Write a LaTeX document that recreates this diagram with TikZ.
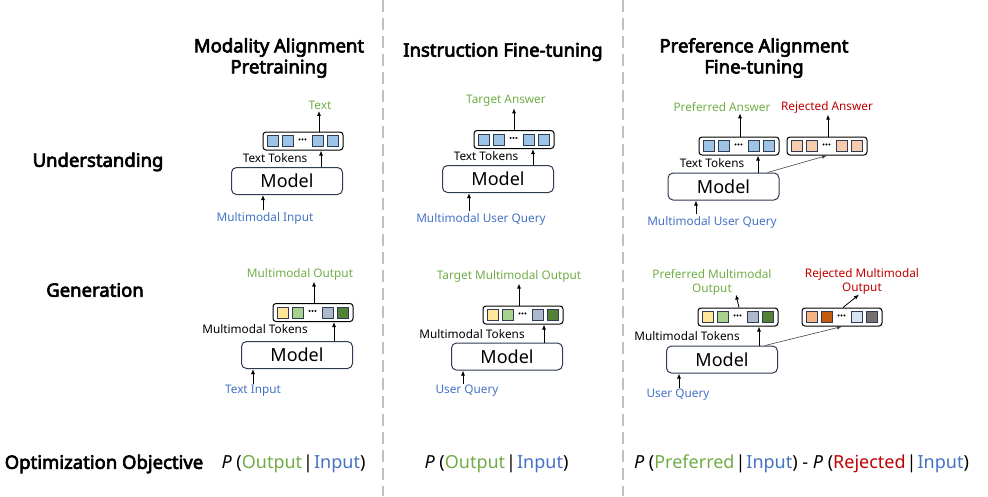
\documentclass[tikz,border=0pt]{standalone}
\usepackage{fontspec}
\setmainfont{Noto Sans}[AutoFakeBold=3.5]
\usepackage{xcolor}
\usetikzlibrary{arrows.meta}

\definecolor{ansgreen}{HTML}{70AD47}
\definecolor{qblue}{HTML}{4472C4}
\definecolor{rejred}{HTML}{C00000}
\definecolor{boxnavy}{HTML}{2F3B52}
\definecolor{tokblue}{HTML}{9DC3E6}
\definecolor{tokyellow}{HTML}{FFE699}
\definecolor{toklgreen}{HTML}{A9D18E}
\definecolor{tokslate}{HTML}{ADB9CA}
\definecolor{tokdgreen}{HTML}{548235}
\definecolor{tokpeach}{HTML}{F8CBAD}
\definecolor{toklorange}{HTML}{F4B183}
\definecolor{tokdorange}{HTML}{C55A11}
\definecolor{tokpale}{HTML}{DAE3F3}
\definecolor{tokgray}{HTML}{767171}
\definecolor{divgray}{HTML}{BFBFBF}

% token strip: name, x, y, four fills
\newcommand{\tokenrow}[7]{%
  \node[tokbox] (#1) at (#2,#3) {};
  \node[tok,fill=#4] (#1-a) at ([xshift=-30pt]#1.center) {};
  \node[tok,fill=#5] (#1-b) at ([xshift=-15pt]#1.center) {};
  \node[tokdots] (#1-d) at ([xshift=-0.5pt]#1.center) {···};
  \node[tok,fill=#6] (#1-c) at ([xshift=15pt]#1.center) {};
  \node[tok,fill=#7] (#1-e) at ([xshift=30pt]#1.center) {};
}
\newcommand{\given}{\kern1pt|\kern1pt}

\begin{document}
\begin{tikzpicture}[x=1pt,y=-1pt]
        \tikzset{model/.append style={rectangle, rounded corners=5pt,
                    draw=boxnavy, fill=white, line width=1pt,
                    minimum width=111pt, minimum height=27pt,
                    font=\fontsize{18}{18}\selectfont},
                 tokbox/.append style={rectangle, rounded corners=3pt,
                    draw=black, fill=white, line width=1pt,
                    minimum width=80pt, minimum height=18pt},
                 tok/.append style={rectangle, draw=boxnavy,
                    line width=0.8pt, minimum size=11pt, inner sep=0pt},
                 tokdots/.append style={inner sep=0pt, font=\fontsize{11}{11}\selectfont\bfseries},
                 lbl/.append style={inner sep=1.5pt, align=center,
                    font=\fontsize{11.8}{14}\selectfont},
                 head/.append style={inner sep=0pt, align=center,
                    font=\fontsize{18.5}{21}\selectfont\bfseries},
                 rowname/.append style={inner sep=0pt,
                    font=\fontsize{18.5}{20}\selectfont\bfseries},
                 objective/.append style={inner sep=0pt,
                    font=\fontsize{18}{20}\selectfont},
                 arr/.append style={-{Latex[length=5pt,width=4pt]}, line width=0.8pt},
                 thinarr/.append style={-{Latex[length=5pt,width=4pt]}, line width=0.6pt, draw=black!75},
                 divider/.append style={draw=divgray, line width=1.4pt,
                    dash pattern=on 12pt off 6pt}}
        \useasboundingbox (0,0) rectangle (988,496);

        % dividers
        \draw[divider] (383,0) -- (383,496);
        \draw[divider] (623,0) -- (623,496);

        % headings and row names
        \node[head] (h1) at (279,58) {Modality Alignment\\Pretraining};
        \node[head] (h2) at (503,52) {Instruction Fine-tuning};
        \node[head] (h3) at (754,58) {Preference Alignment\\Fine-tuning};
        \node[rowname] (ru) at (98,162) {Understanding};
        \node[rowname] (rg) at (95,290) {Generation};
        \node[rowname] (ro) at (104,464) {Optimization Objective};

        % column 1, understanding
        \node[model] (m1u) at (287,181) {Model};
        \tokenrow{t1u}{303}{141}{tokblue}{tokblue}{tokblue}{tokblue}
        \node[lbl] (l1u) at (275,158) {Text Tokens};
        \node[lbl, text=ansgreen] (o1u) at (320,105) {Text};
        \node[lbl, text=qblue] (i1u) at (265,218) {Multimodal Input};
        \draw[arr] ([xshift=18pt]t1u.south |- m1u.north) -- ([xshift=18pt]t1u.south);
        \draw[arr] ([xshift=16pt]t1u.north) -- ([xshift=16pt]t1u.north |- o1u.south);
        \draw[arr] ([xshift=-2pt]i1u.north) -- ([xshift=-2pt]i1u.north |- m1u.south);

        % column 1, generation
        \node[model] (m1g) at (297,355) {Model};
        \tokenrow{t1g}{313}{312.5}{tokyellow}{toklgreen}{tokslate}{tokdgreen}
        \node[lbl] (l1g) at (255,329) {Multimodal Tokens};
        \node[lbl, text=ansgreen] (o1g) at (300,274) {Multimodal Output};
        \node[lbl, text=qblue] (i1g) at (253,391) {Text Input};
        \draw[arr] ([xshift=21pt]t1g.south |- m1g.north) -- ([xshift=21pt]t1g.south);
        \draw[arr] ([xshift=1pt]t1g.north) -- ([xshift=1pt]t1g.north |- o1g.south);
        \draw[arr] (i1g.north) -- (i1g.north |- m1g.south);

        % column 2, understanding
        \node[model] (m2u) at (498,179) {Model};
        \tokenrow{t2u}{514}{139.5}{tokblue}{tokblue}{tokblue}{tokblue}
        \node[lbl] (l2u) at (486,156) {Text Tokens};
        \node[lbl, text=ansgreen] (o2u) at (506,101) {Target Answer};
        \node[lbl, text=qblue] (i2u) at (481,219) {Multimodal User Query};
        \draw[arr] ([xshift=19pt]t2u.south |- m2u.north) -- ([xshift=19pt]t2u.south);
        \draw[arr] (t2u.north) -- (t2u.north |- o2u.south);
        \draw[arr] ([xshift=-12pt]i2u.north) -- ([xshift=-12pt]i2u.north |- m2u.south);

        % column 2, generation
        \node[model] (m2g) at (507,356.5) {Model};
        \tokenrow{t2g}{523}{315}{tokyellow}{toklgreen}{tokslate}{tokdgreen}
        \node[lbl] (l2g) at (472,334) {Multimodal Tokens};
        \node[lbl, text=ansgreen] (o2g) at (509,276) {Target Multimodal Output};
        \node[lbl, text=qblue] (i2g) at (467,391) {User Query};
        \draw[arr] ([xshift=21pt]t2g.south |- m2g.north) -- ([xshift=21pt]t2g.south);
        \draw[arr] ([xshift=-4pt]t2g.north) -- ([xshift=-4pt]t2g.north |- o2g.south);
        \draw[arr] ([xshift=-4pt]i2g.north) -- ([xshift=-4pt]i2g.north |- m2g.south);

        % column 3, understanding
        \node[model] (m3u) at (723.5,186.5) {Model};
        \tokenrow{p3u}{739}{146}{tokblue}{tokblue}{tokblue}{tokblue}
        \tokenrow{r3u}{827}{146}{tokpeach}{tokpeach}{tokpeach}{tokpeach}
        \node[lbl] (l3u) at (712,163) {Text Tokens};
        \node[lbl, text=ansgreen] (o3u) at (722,107) {Preferred Answer};
        \node[lbl, text=rejred] (x3u) at (827,107) {Rejected Answer};
        \node[lbl, text=qblue] (i3u) at (712,222) {Multimodal User Query};
        \draw[arr] ([xshift=19pt]p3u.south |- m3u.north) -- ([xshift=19pt]p3u.south);
        \draw[thinarr] ([xshift=44pt]m3u.north) -- (r3u.south);
        \draw[arr] ([xshift=1pt]p3u.north) -- ([xshift=1pt]p3u.north |- o3u.south);
        \draw[arr] ([xshift=1pt]r3u.north) -- ([xshift=1pt]r3u.north |- x3u.south);
        \draw[arr] ([xshift=-16pt]i3u.north) -- ([xshift=-16pt]i3u.north |- m3u.south);

        % column 3, generation
        \node[model] (m3g) at (722,359.5) {Model};
        \tokenrow{p3g}{738}{317}{tokyellow}{toklgreen}{tokslate}{tokdgreen}
        \tokenrow{r3g}{842}{317}{toklorange}{tokdorange}{tokpale}{tokgray}
        \node[lbl] (l3g) at (687,336) {Multimodal Tokens};
        \node[lbl, text=ansgreen] (o3g) at (712,282) {Preferred Multimodal\\Output};
        \node[lbl, text=rejred] (x3g) at (862,281) {Rejected Multimodal\\Output};
        \node[lbl, text=qblue] (i3g) at (678,395) {User Query};
        \draw[arr] ([xshift=21pt]p3g.south |- m3g.north) -- ([xshift=21pt]p3g.south);
        \draw[thinarr] ([xshift=43pt]m3g.north) -- (r3g.south);
        \draw[arr] ([xshift=1pt]p3g.north) -- ([xshift=24pt,yshift=2pt]o3g.south);
        \draw[arr] ([xshift=1pt]r3g.north) -- ([xshift=-3pt,yshift=1pt]x3g.south);
        \draw[arr] ([xshift=1pt]i3g.north) -- ([xshift=1pt]i3g.north |- m3g.south);

        % objectives
        \node[objective] (obj1) at (293.5,464) {\textit{P} (\textcolor{ansgreen}{Output}\given\textcolor{qblue}{Input})};
        \node[objective] (obj2) at (496.5,464) {\textit{P} (\textcolor{ansgreen}{Output}\given\textcolor{qblue}{Input})};
        \node[objective] (obj3) at (801.5,464) {\textit{P} (\textcolor{ansgreen}{Preferred}\given\textcolor{qblue}{Input}) - \textit{P} (\textcolor{rejred}{Rejected}\given\textcolor{qblue}{Input})};
    \end{tikzpicture}
\end{document}
